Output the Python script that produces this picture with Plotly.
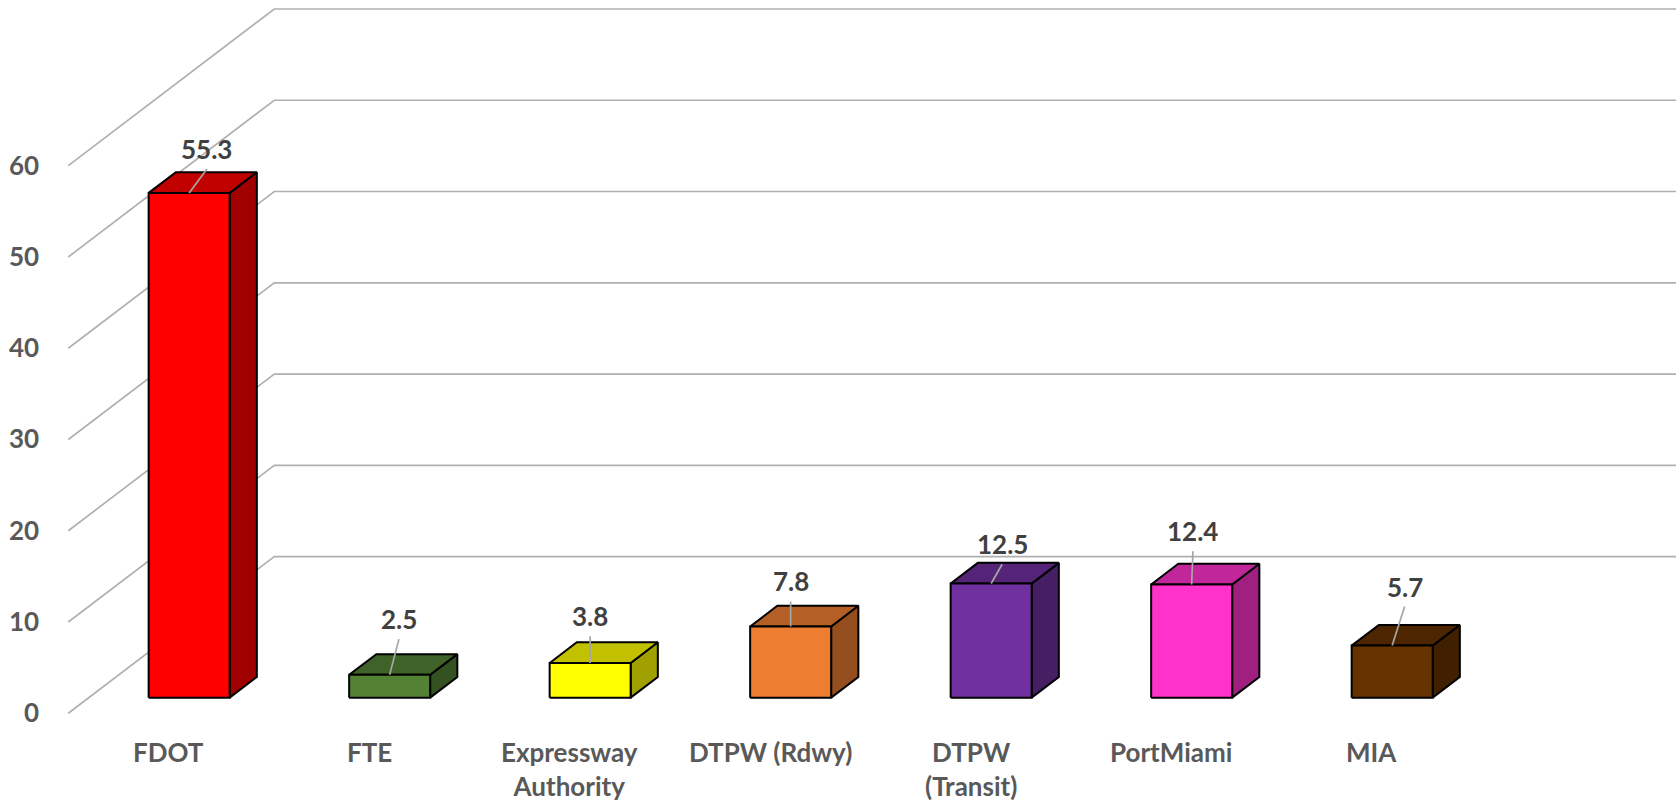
import plotly.graph_objects as go

# ---------------- data ----------------
categories = ["FDOT", "FTE", "Expressway<br>Authority", "DTPW (Rdwy)",
              "DTPW<br>(Transit)", "PortMiami", "MIA"]
values = [55.3, 2.5, 3.8, 7.8, 12.5, 12.4, 5.7]
value_labels = ["55.3", "2.5", "3.8", "7.8", "12.5", "12.4", "5.7"]
y_ticks = [0, 10, 20, 30, 40, 50, 60]
front_colors = ["#FF0000", "#548235", "#FFFF00", "#ED7D31", "#7030A0", "#FF33CC", "#663300"]

# ---------------- style / geometry ----------------
W, H = 1676, 803
PX_X = 200.5          # pixels per category
PX_Y = 9.127          # pixels per value unit
X0_PX = 68.3          # pixel of category -0.5 (front)
Y0_PX = 713.3         # pixel of value 0 (front)
X_MIN = -0.5 - X0_PX / PX_X
X_MAX = X_MIN + W / PX_X
Y_MAX = Y0_PX / PX_Y
Y_MIN = -(H - Y0_PX) / PX_Y

DEPTH_DX = 206 / PX_X     # full floor depth, in category units
DEPTH_DY = 156.7 / PX_Y   # full floor depth, in value units
F_FRONT = 0.10
F_BACK = 0.232
HALF_W = 0.202

# leader line offsets (px, right / up) from bar front-top centre
leader_offsets = [(17.8, 24), (9.3, 35.7), (0, 26.7), (0, 25), (11, 19.3), (1.3, 33.3), (12.5, 39)]

GRID = "#B0B0B0"
AXIS_TXT = "#595959"
LABEL_TXT = "#404040"
FONT = "Lato"
FSIZE = 26


def shade(hexcol, f):
    h = hexcol.lstrip("#")
    r, g, b = (int(h[i:i + 2], 16) for i in (0, 2, 4))
    return "#%02X%02X%02X" % (int(r * f), int(g * f), int(b * f))


fig = go.Figure()

# gridlines: left wall diagonals + back wall horizontals
n = len(categories)
for t in y_ticks:
    xs = [-0.5, -0.5 + DEPTH_DX, n - 0.5 + DEPTH_DX]
    ys = [t, t + DEPTH_DY, t + DEPTH_DY]
    fig.add_trace(go.Scatter(x=xs, y=ys, mode="lines",
                             line=dict(color=GRID, width=1.7),
                             hoverinfo="skip"))

# bars
d = (F_BACK - F_FRONT) * DEPTH_DX
e = (F_BACK - F_FRONT) * DEPTH_DY
for i, v in enumerate(values):
    xl = i - HALF_W + F_FRONT * DEPTH_DX
    xr = i + HALF_W + F_FRONT * DEPTH_DX
    yb = F_FRONT * DEPTH_DY
    yt = yb + v
    col = front_colors[i]
    outline = dict(color="#000000", width=2)
    # side
    fig.add_trace(go.Scatter(x=[xr, xr, xr + d, xr + d, xr], y=[yb, yt, yt + e, yb + e, yb],
                             mode="lines", fill="toself", fillcolor=shade(col, 0.63),
                             line=outline, hoverinfo="skip"))
    # top
    fig.add_trace(go.Scatter(x=[xl, xr, xr + d, xl + d, xl], y=[yt, yt, yt + e, yt + e, yt],
                             mode="lines", fill="toself", fillcolor=shade(col, 0.76),
                             line=outline, hoverinfo="skip"))
    # front
    fig.add_trace(go.Scatter(x=[xl, xr, xr, xl, xl], y=[yb, yb, yt, yt, yb],
                             mode="lines", fill="toself", fillcolor=col,
                             line=outline, hoverinfo="skip"))
    # leader line + label
    xc = (xl + xr) / 2
    ox, oy = leader_offsets[i]
    lx = xc + ox / PX_X
    ly = yt + oy / PX_Y
    fig.add_trace(go.Scatter(x=[xc, lx], y=[yt, ly], mode="lines",
                             line=dict(color="#A6A6A6", width=1.7), hoverinfo="skip"))
    fig.add_annotation(x=lx, y=ly + 20 / PX_Y, text=value_labels[i], showarrow=False,
                       xanchor="center", yanchor="middle",
                       font=dict(family=FONT, size=FSIZE, color=LABEL_TXT, weight=700))

# y tick labels
for t in y_ticks:
    fig.add_annotation(x=-0.5 - 27 / PX_X, y=t + 1 / PX_Y, text=str(t), showarrow=False,
                       xanchor="right", yanchor="middle",
                       font=dict(family=FONT, size=FSIZE, color=AXIS_TXT, weight=700))

# category labels
for i, c in enumerate(categories):
    fig.add_annotation(x=i, y=-(734 - Y0_PX) / PX_Y, text=c, showarrow=False,
                       xanchor="center", yanchor="top",
                       font=dict(family=FONT, size=FSIZE, color=AXIS_TXT, weight=700))

fig.update_layout(
    width=W, height=H,
    margin=dict(l=0, r=0, t=0, b=0),
    paper_bgcolor="white", plot_bgcolor="white",
    showlegend=False,
    xaxis=dict(range=[X_MIN, X_MAX], visible=False, fixedrange=True),
    yaxis=dict(range=[Y_MIN, Y_MAX], visible=False, fixedrange=True),
)

fig.write_html("out.html", config={"displayModeBar": False},
               post_script="document.body.style.margin='0';")
